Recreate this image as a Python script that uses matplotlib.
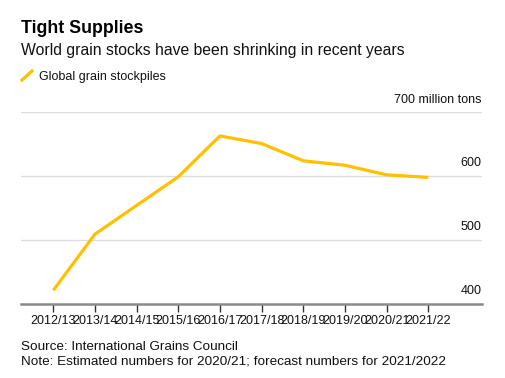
"""
Tight Supplies: world grain stockpiles, International Grains Council.
"""

import matplotlib
matplotlib.use("Agg")
import matplotlib.pyplot as plt
from matplotlib.lines import Line2D

seasons = ["2012/13", "2013/14", "2014/15", "2015/16", "2016/17",
           "2017/18", "2018/19", "2019/20", "2020/21", "2021/22"]
stocks = [421, 509, 554, 599, 663, 651, 624, 617, 602, 598]
y_ticks = [400, 500, 600, 700]
y_labels = ["400", "500", "600", "700 million tons"]

LINE = "#FFC000"
GRID = "#dddddd"
AXIS = "#8a8a8a"

W, H = 505, 378
plt.rcParams["font.family"] = ["Liberation Sans", "DejaVu Sans"]

fig = plt.figure(figsize=(W / 100, H / 100), dpi=100)
fig.patch.set_facecolor("white")


def fx(px):
    return px / W


def fy(py):
    return 1 - py / H


left, right, top, bottom = 21, 481.7, 112.3, 303.7
ax = fig.add_axes([fx(left), fy(bottom), fx(right - left), (bottom - top) / H])

x = list(range(len(seasons)))
ax.plot(x, stocks, color=LINE, lw=2.3, solid_capstyle="butt", zorder=3)

ax.set_ylim(400, 700)
step = (428.3 - 53.3) / 9
ax.set_xlim((left - 53.3) / step, (right - 53.3) / step)

for v in y_ticks[1:]:
    ax.axhline(v, color=GRID, lw=1, zorder=1)
ax.set_yticks([])
for v, lab in zip(y_ticks, y_labels):
    ax.annotate(lab, xy=(1, v), xycoords=("axes fraction", "data"),
                xytext=(0, 7), textcoords="offset points",
                ha="right", va="baseline", fontsize=9, color="#111111")

for s in ["top", "right", "left"]:
    ax.spines[s].set_visible(False)
ax.spines["bottom"].set_color(AXIS)
ax.spines["bottom"].set_linewidth(1.8)

ax.set_xticks(x)
ax.set_xticklabels(seasons, fontsize=9, color="#111111")
ax.tick_params(axis="x", length=6, width=1, color="#333333", pad=2)

# header
fig.text(fx(21), fy(33), "Tight Supplies", fontsize=12.8, fontweight="bold",
         va="baseline", ha="left", color="#000000")
fig.text(fx(21), fy(55), "World grain stocks have been shrinking in recent years",
         fontsize=11.3, va="baseline", ha="left", color="#111111")
fig.add_artist(Line2D([fx(22), fx(32)], [fy(80), fy(71)], color=LINE, lw=2.3,
                      transform=fig.transFigure))
fig.text(fx(39), fy(80), "Global grain stockpiles", fontsize=9,
         va="baseline", ha="left", color="#111111")

# footer
fig.text(fx(21), fy(350), "Source: International Grains Council",
         fontsize=9.7, va="baseline", ha="left", color="#111111")
fig.text(fx(21), fy(365), "Note: Estimated numbers for 2020/21; forecast numbers for 2021/2022",
         fontsize=9.7, va="baseline", ha="left", color="#111111")

fig.savefig("out.png", dpi=100, facecolor="white")
